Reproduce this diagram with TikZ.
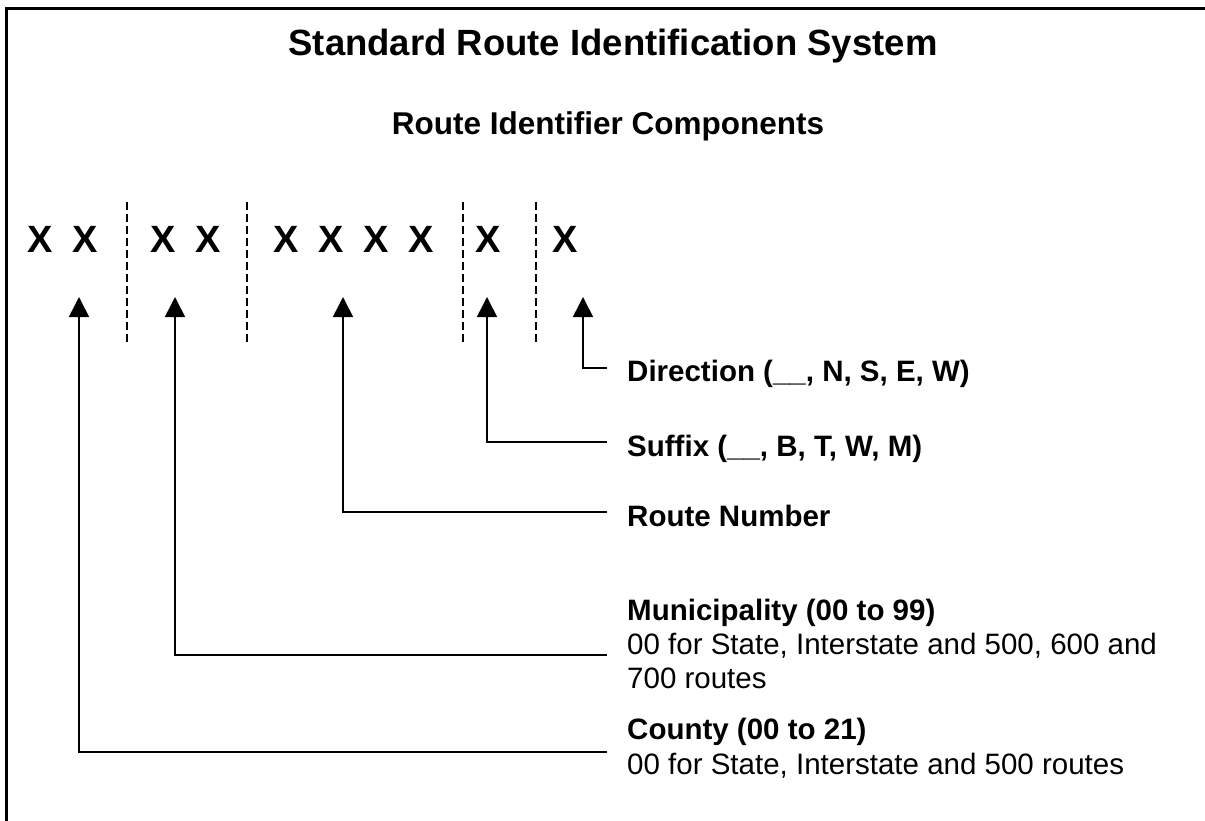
\documentclass[tikz,border=0pt]{standalone}
\usepackage{fontspec}
\setmainfont{Liberation Sans}
\usetikzlibrary{arrows.meta}
\begin{document}
\begin{tikzpicture}[x=1pt,y=-1pt,
  maintitle/.style={font=\fontsize{36.5}{44}\selectfont\bfseries, inner sep=0pt, anchor=base},
  subtitle/.style={font=\fontsize{31.5}{38}\selectfont\bfseries, inner sep=0pt, anchor=base},
  xchar/.style={font=\fontsize{38}{44}\selectfont\bfseries, inner sep=0pt, anchor=base},
  lblbold/.style={font=\fontsize{29.5}{34}\selectfont\bfseries, inner sep=0pt, anchor=base west},
  lbl/.style={font=\fontsize{29.5}{34}\selectfont, inner sep=0pt, anchor=base west},
  divider/.style={line width=1.5pt, dash pattern=on 8pt off 4pt},
  pointer/.style={line width=1.6pt, -{Triangle[width=20pt,length=20pt]}},
  borderline/.style={line width=3pt}]
\useasboundingbox (0,0) rectangle (1205,821);

% frame (top and left edges; the rest lies outside the picture)
\begin{scope}
\clip (0,0) rectangle (1205,821);
\draw[borderline] (6.5,840) -- (6.5,8.5) -- (1230,8.5);
\end{scope}

% titles
\node[maintitle] (title) at (613,56) {Standard Route Identification System};
\node[subtitle] (subtitle) at (608,135) {Route Identifier Components};

% identifier characters
\node[xchar] (x1) at (40,253) {X};
\node[xchar] (x2) at (85,253) {X};
\node[xchar] (x3) at (163,253) {X};
\node[xchar] (x4) at (208,253) {X};
\node[xchar] (x5) at (286,253) {X};
\node[xchar] (x6) at (331,253) {X};
\node[xchar] (x7) at (376,253) {X};
\node[xchar] (x8) at (421,253) {X};
\node[xchar] (x9) at (488,253) {X};
\node[xchar] (x10) at (565,253) {X};

% dashed separators
\coordinate (d1t) at (127,202); \coordinate (d1b) at (127,345);
\coordinate (d2t) at (247,202); \coordinate (d2b) at (247,345);
\coordinate (d3t) at (463,202); \coordinate (d3b) at (463,345);
\coordinate (d4t) at (536,202); \coordinate (d4b) at (536,345);
\draw[divider] (d1t) -- (d1b);
\draw[divider] (d2t) -- (d2b);
\draw[divider] (d3t) -- (d3b);
\draw[divider] (d4t) -- (d4b);

% labels
\node[lblbold] (dir) at (627,381) {Direction (\_\_, N, S, E, W)};
\node[lblbold] (suf) at (627,456) {Suffix (\_\_, B, T, W, M)};
\node[lblbold] (rnum) at (627,526) {Route Number};
\node[lblbold] (muni) at (627,620) {Municipality (00 to 99)};
\node[lbl] (muni2) at (627,654) {00 for State, Interstate and 500, 600 and};
\node[lbl] (muni3) at (627,688) {700 routes};
\node[lblbold] (cnty) at (627,739) {County (00 to 21)};
\node[lbl] (cnty2) at (627,774) {00 for State, Interstate and 500 routes};

% connector ends and tips
\coordinate (dirEnd) at (607,368);  \coordinate (dirTip) at (583,297);
\coordinate (sufEnd) at (607,442);  \coordinate (sufTip) at (487,297);
\coordinate (rnumEnd) at (607,512); \coordinate (rnumTip) at (343,297);
\coordinate (muniEnd) at (607,655); \coordinate (muniTip) at (175,297);
\coordinate (cntyEnd) at (607,752); \coordinate (cntyTip) at (79,297);

\draw[pointer] (dirEnd) -| (dirTip);
\draw[pointer] (sufEnd) -| (sufTip);
\draw[pointer] (rnumEnd) -| (rnumTip);
\draw[pointer] (muniEnd) -| (muniTip);
\draw[pointer] (cntyEnd) -| (cntyTip);
\end{tikzpicture}
\end{document}
